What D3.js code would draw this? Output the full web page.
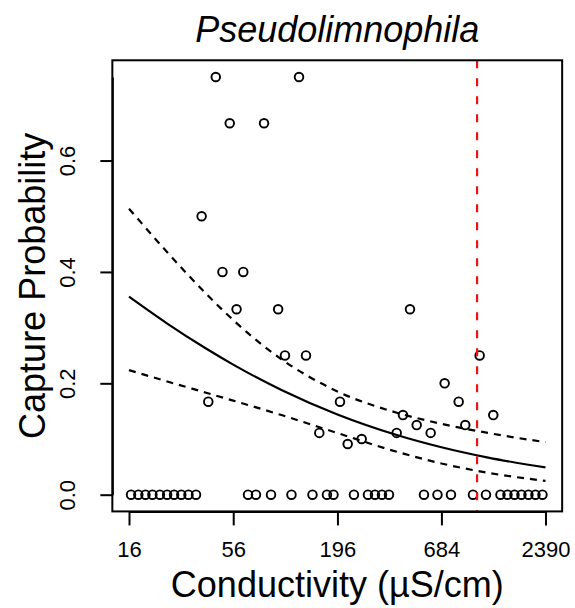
<!DOCTYPE html>
<html>
<head>
<meta charset="utf-8">
<script src="https://cdn.jsdelivr.net/npm/d3@7"></script>
<style>
  html, body { margin: 0; padding: 0; background: #ffffff; }
  svg { display: block; }
  text { font-family: "Liberation Sans", Arial, Helvetica, sans-serif; fill: #000; }
</style>
</head>
<body>
<svg id="chart" width="575" height="608"></svg>
<script>
// ---- data ----
const titleText = "Pseudolimnophila";
const xTitle = "Conductivity (\u00B5S/cm)";
const yTitle = "Capture Probability";

const xTicks = [16, 56, 196, 684, 2390];
const xTickLabels = ["16", "56", "196", "684", "2390"];
const yTicks = [0, 0.2, 0.4, 0.6];
const yTickLabels = ["0.0", "0.2", "0.4", "0.6"];

// observed capture probabilities (conductivity, probability)
const obsConductivity = [
  16.4, 17.9, 19.5, 21.2, 23.2, 25.3, 27.5, 30.0, 32.7, 35.8,
  66.9, 73.6, 88.2, 112.8, 145.2, 172.8, 186.9,
  239, 282.9, 307.7, 334.7, 364.1, 554.6, 652.3, 767.2, 999.5,
  1168.6, 1391, 1513, 1646, 1790, 1947, 2118, 2304,
  38.3, 41.5, 45.4, 49.2, 53.7, 58.3, 63.2, 81.1, 96.1, 104.3,
  123.5, 134.3, 157.6, 202.1, 221.7, 262.3, 399.5, 430.9, 468.8,
  508, 601, 711, 841.6, 911, 1083, 1275.7
];
const obsProbability = [
  0, 0, 0, 0, 0, 0, 0, 0, 0, 0,
  0, 0, 0, 0, 0, 0, 0,
  0, 0, 0, 0, 0, 0, 0, 0, 0,
  0, 0, 0, 0, 0, 0, 0, 0,
  0.5, 0.167, 0.75, 0.4, 0.667, 0.333, 0.4, 0.667, 0.333, 0.25,
  0.75, 0.25, 0.111, 0.167, 0.091, 0.1, 0.111, 0.143, 0.333,
  0.125, 0.111, 0.2, 0.167, 0.125, 0.25, 0.143
];

// fitted curve and confidence band
const curveConductivity = [16, 25, 40, 56, 100, 196, 400, 684, 1200, 2390];
const fitProbability   = [0.3555, 0.3086, 0.2633, 0.2335, 0.1880, 0.1441, 0.1072, 0.0852, 0.0666, 0.0490];
const upperProbability = [0.5136, 0.4376, 0.3624, 0.3136, 0.2432, 0.1854, 0.1472, 0.1273, 0.1108, 0.0943];
const lowerProbability = [0.2237, 0.2039, 0.1835, 0.1689, 0.1430, 0.1107, 0.0771, 0.0561, 0.0393, 0.0248];

const thresholdConductivity = 1050;

// ---- drawing ----
const svg = d3.select("#chart");

const x = d3.scaleLog().domain([16, 2390]).range([129, 545.5]);
const y = d3.scaleLinear().domain([0, 0.75]).range([494.7, 77]);

const xPad = (x.range()[1] - x.range()[0]) * 0.04;
const yPad = (y.range()[0] - y.range()[1]) * 0.04;
const boxL = x.range()[0] - xPad, boxR = x.range()[1] + xPad;
const boxT = y.range()[1] - yPad, boxB = y.range()[0] + yPad;

// clip for plot region
svg.append("defs").append("clipPath").attr("id", "clip")
  .append("rect").attr("x", boxL).attr("y", boxT)
  .attr("width", boxR - boxL).attr("height", boxB - boxT);

const plot = svg.append("g").attr("clip-path", "url(#clip)");

// points
plot.selectAll("circle.pt")
  .data(obsConductivity.map((c, i) => [c, obsProbability[i]]))
  .enter().append("circle")
  .attr("class", "pt")
  .attr("cx", d => x(d[0]))
  .attr("cy", d => y(d[1]))
  .attr("r", 4.3)
  .attr("fill", "none")
  .attr("stroke", "#000")
  .attr("stroke-width", 1.9);

const line = d3.line()
  .x(d => x(d[0]))
  .y(d => y(d[1]))
  .curve(d3.curveMonotoneX);

plot.append("path")
  .datum(curveConductivity.map((c, i) => [c, fitProbability[i]]))
  .attr("d", line)
  .attr("fill", "none")
  .attr("stroke", "#000")
  .attr("stroke-width", 2.2);

[upperProbability, lowerProbability].forEach(arr => {
  plot.append("path")
    .datum(curveConductivity.map((c, i) => [c, arr[i]]))
    .attr("d", line)
    .attr("fill", "none")
    .attr("stroke", "#000")
    .attr("stroke-width", 2.2)
    .attr("stroke-dasharray", "7,6");
});

// threshold line
plot.append("line")
  .attr("x1", x(thresholdConductivity)).attr("x2", x(thresholdConductivity))
  .attr("y1", boxT).attr("y2", boxB)
  .attr("stroke", "#ee1111")
  .attr("stroke-width", 2.2)
  .attr("stroke-dasharray", "8,10");

// box
svg.append("rect")
  .attr("x", boxL).attr("y", boxT)
  .attr("width", boxR - boxL).attr("height", boxB - boxT)
  .attr("fill", "none")
  .attr("stroke", "#000")
  .attr("stroke-width", 2);

// x axis
const xAxis = d3.axisBottom(x)
  .tickValues(xTicks)
  .tickFormat((d, i) => xTickLabels[i])
  .tickSize(14)
  .tickPadding(16)
  .tickSizeOuter(0);
const gx = svg.append("g").attr("transform", `translate(0,${boxB})`).call(xAxis);
gx.select(".domain").attr("stroke-width", 2);
gx.selectAll(".tick line").attr("stroke-width", 2);
gx.selectAll(".tick text").style("font-size", "22px").attr("dy", "0.71em");

// y axis
const yAxis = d3.axisLeft(y)
  .tickValues(yTicks)
  .tickFormat((d, i) => yTickLabels[i])
  .tickSize(12)
  .tickSizeOuter(0);
const gy = svg.append("g").attr("transform", `translate(${boxL},0)`).call(yAxis);
gy.select(".domain").attr("stroke-width", 2);
gy.selectAll(".tick line").attr("stroke-width", 2);
gy.selectAll(".tick text")
  .style("font-size", "22px")
  .attr("x", null).attr("dy", null)
  .attr("text-anchor", "middle")
  .attr("transform", "translate(-37,0) rotate(-90)");

// titles
svg.append("text")
  .attr("x", (boxL + boxR) / 2).attr("y", 42)
  .attr("text-anchor", "middle")
  .style("font-size", "36px").style("font-style", "italic")
  .text(titleText);

svg.append("text")
  .attr("x", (boxL + boxR) / 2).attr("y", 597)
  .attr("text-anchor", "middle")
  .style("font-size", "36px")
  .text(xTitle);

svg.append("text")
  .attr("transform", `translate(45,${(boxT + boxB) / 2}) rotate(-90)`)
  .attr("text-anchor", "middle")
  .style("font-size", "36px")
  .text(yTitle);
</script>
</body>
</html>
